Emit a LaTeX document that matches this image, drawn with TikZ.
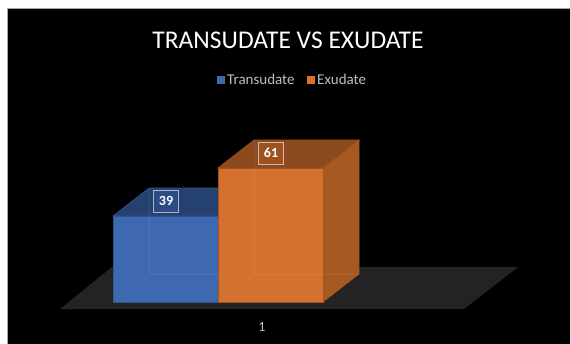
\documentclass[tikz,border=0pt]{standalone}
\usepackage{fontspec}
\setmainfont{Carlito}
\usepackage{xcolor}
\usepackage{tikz}
\usetikzlibrary{shapes.geometric}

\definecolor{floorgray}{HTML}{232323}
\definecolor{transfront}{HTML}{3E68AF}
\definecolor{transtop}{HTML}{25416F}
\definecolor{transtag}{HTML}{2C4B80}
\definecolor{exufront}{HTML}{D5712F}
\definecolor{exutop}{HTML}{8B4A1D}
\definecolor{exuside}{HTML}{A65921}
\definecolor{exutag}{HTML}{9C521F}
\definecolor{axisgray}{HTML}{BFBFBF}

\tikzset{
    valuetag/.style = {draw = white, draw opacity = 0.6, line width = 0.9pt, text = white,
        font = \bfseries\fontsize{14}{16}\selectfont, minimum width = 25pt, minimum height = 22pt,
        inner sep = 1pt},
    keybox/.style = {minimum size = 8pt, inner sep = 0pt},
    keytext/.style = {text = axisgray, font = \fontsize{15}{17}\selectfont, inner sep = 1pt},
    hiddenedge/.style = {color = white, opacity = 0.07, line width = 0.6pt}
}

\begin{document}
\begin{tikzpicture}[x = 1pt, y = -1pt]
        \useasboundingbox (0, 0) rectangle (570, 343);
        \fill [white] (0, 0) rectangle (570, 343);
        \filldraw [color = gray!70, fill = black, line width = 0.8pt] (7, 8) rectangle (571, 344);

        \node (title) [text = white, font = \fontsize{25.5}{29}\selectfont] at (288, 40) {TRANSUDATE VS EXUDATE};

        \node (keyT) [keybox, fill = transfront] at (221, 80) {};
        \node (keyTtext) [keytext, anchor = west] at (226, 79.5) {Transudate};
        \node (keyE) [keybox, fill = exufront] at (311, 80) {};
        \node (keyEtext) [keytext, anchor = west] at (316, 79.5) {Exudate};

        \fill [floorgray] (60, 309) -- (464, 309) -- (518, 267) -- (112, 267) -- cycle;

        \filldraw [color = transfront!80!black, fill = transfront, line width = 0.6pt] (113, 216) rectangle (218, 302);
        \filldraw [color = transfront!80!black, fill = transtop, line width = 0.6pt] (113, 216) -- (218, 216) -- (254, 188) -- (149, 188) -- cycle;
        \draw [hiddenedge] (149, 188) -- (149, 274) -- (218, 274);
        \draw [hiddenedge] (149, 274) -- (113, 302);

        \filldraw [color = exufront!75!black, fill = exuside, line width = 0.6pt] (323, 168) -- (359, 140) -- (359, 274) -- (323, 302) -- cycle;
        \filldraw [color = exufront!75!black, fill = exufront, line width = 0.6pt] (218, 168) rectangle (323, 302);
        \filldraw [color = exufront!75!black, fill = exutop, line width = 0.6pt] (218, 168) -- (323, 168) -- (359, 140) -- (254, 140) -- cycle;
        \draw [hiddenedge] (254, 140) -- (254, 274) -- (359, 274);
        \draw [hiddenedge] (254, 274) -- (218, 302);

        \node (tagT) [valuetag, fill = transtag] at (166, 201) {39};
        \node (tagE) [valuetag, fill = exutag] at (271, 153) {61};

        \node (catlabel) [text = axisgray, font = \fontsize{14}{16}\selectfont] at (262, 327) {1};
    \end{tikzpicture}
\end{document}
